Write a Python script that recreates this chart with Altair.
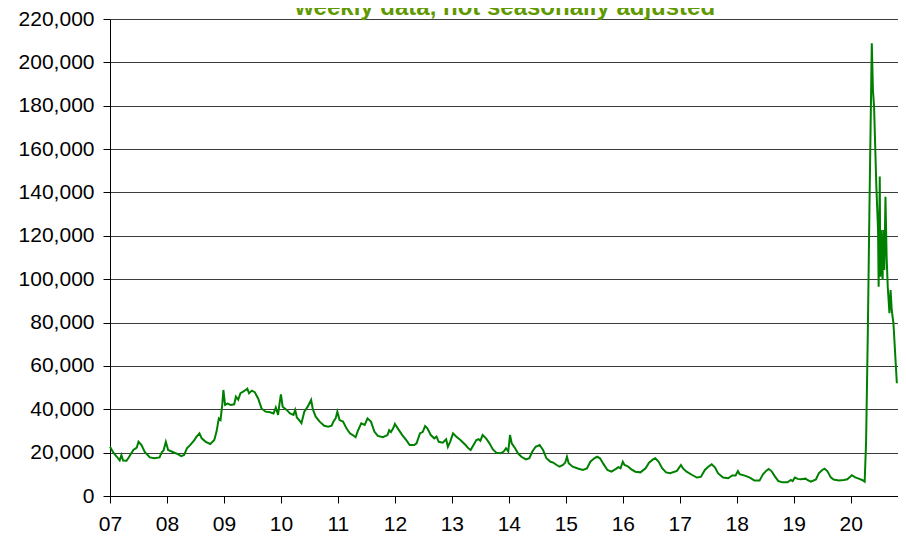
import altair as alt
import pandas as pd

TITLE = "weekly data, not seasonally adjusted"

# time in fractional years, weekly claims
t = [
    2007.00, 2007.06, 2007.12, 2007.17, 2007.20, 2007.23, 2007.29, 2007.32, 2007.41, 2007.47,
    2007.50, 2007.55, 2007.61, 2007.70, 2007.78, 2007.87, 2007.91, 2007.94, 2007.98, 2008.02,
    2008.10, 2008.19, 2008.25, 2008.30, 2008.35, 2008.41, 2008.48, 2008.51, 2008.57, 2008.61,
    2008.68, 2008.76, 2008.83, 2008.87, 2008.91, 2008.94, 2008.97, 2008.99, 2009.02, 2009.06,
    2009.12, 2009.18, 2009.21, 2009.25, 2009.29, 2009.33, 2009.38, 2009.41, 2009.44, 2009.49,
    2009.54, 2009.60, 2009.66, 2009.73, 2009.81, 2009.87, 2009.91, 2009.95, 2009.98, 2010.00,
    2010.03, 2010.10, 2010.16, 2010.22, 2010.25, 2010.28, 2010.34, 2010.36, 2010.41, 2010.47,
    2010.53, 2010.56, 2010.61, 2010.68, 2010.76, 2010.83, 2010.89, 2010.92, 2010.96, 2010.99,
    2011.03, 2011.09, 2011.15, 2011.21, 2011.26, 2011.31, 2011.35, 2011.41, 2011.47, 2011.52,
    2011.58, 2011.64, 2011.70, 2011.79, 2011.87, 2011.90, 2011.93, 2011.97, 2012.00, 2012.05,
    2012.13, 2012.20, 2012.26, 2012.34, 2012.38, 2012.44, 2012.49, 2012.53, 2012.57, 2012.63,
    2012.69, 2012.73, 2012.77, 2012.84, 2012.90, 2012.93, 2012.97, 2013.02, 2013.08, 2013.15,
    2013.24, 2013.29, 2013.33, 2013.38, 2013.43, 2013.47, 2013.50, 2013.54, 2013.60, 2013.66,
    2013.72, 2013.78, 2013.85, 2013.91, 2013.95, 2013.99, 2014.02, 2014.05, 2014.11, 2014.16,
    2014.22, 2014.30, 2014.36, 2014.41, 2014.47, 2014.54, 2014.60, 2014.66, 2014.73, 2014.78,
    2014.84, 2014.89, 2014.95, 2014.99, 2015.02, 2015.05, 2015.12, 2015.21, 2015.30, 2015.37,
    2015.43, 2015.50, 2015.55, 2015.60, 2015.66, 2015.73, 2015.80, 2015.88, 2015.92, 2015.96,
    2016.00, 2016.03, 2016.08, 2016.15, 2016.22, 2016.31, 2016.40, 2016.46, 2016.53, 2016.57,
    2016.63, 2016.69, 2016.76, 2016.83, 2016.95, 2017.02, 2017.06, 2017.12, 2017.21, 2017.30,
    2017.37, 2017.44, 2017.50, 2017.56, 2017.62, 2017.67, 2017.76, 2017.85, 2017.92, 2017.98,
    2018.02, 2018.05, 2018.14, 2018.23, 2018.31, 2018.40, 2018.46, 2018.52, 2018.56, 2018.61,
    2018.66, 2018.73, 2018.80, 2018.89, 2018.95, 2018.98, 2019.02, 2019.07, 2019.12, 2019.21,
    2019.24, 2019.30, 2019.39, 2019.44, 2019.50, 2019.54, 2019.59, 2019.65, 2019.70, 2019.79,
    2019.88, 2019.94, 2019.99, 2020.02, 2020.08, 2020.14, 2020.20, 2020.245, 2020.27, 2020.30,
    2020.33, 2020.37, 2020.39, 2020.41, 2020.45, 2020.48, 2020.49, 2020.51, 2020.52, 2020.53,
    2020.56, 2020.57, 2020.59, 2020.61, 2020.63, 2020.65, 2020.68, 2020.70, 2020.72, 2020.75,
    2020.81,
]
claims = [
    22700, 20000, 18100, 16400, 18900, 16400, 16300, 17400, 21200, 22300,
    25000, 23600, 20300, 17800, 17400, 17800, 20300, 21000, 25000, 21200,
    20300, 19300, 18400, 18900, 22000, 23600, 25800, 27000, 28900, 26600,
    25000, 24000, 25800, 29700, 35800, 35100, 42000, 48900, 42000, 42600,
    42000, 42300, 45800, 44400, 47400, 48000, 48900, 49500, 47400, 48600,
    47900, 45000, 40400, 38900, 38600, 38100, 40800, 37400, 43500, 46900,
    41200, 39700, 38100, 37400, 39700, 36200, 34300, 33600, 38900, 41200,
    44300, 40000, 36600, 34300, 32400, 32000, 32400, 34300, 35800, 38900,
    35000, 34300, 31200, 28900, 28100, 27100, 30000, 33500, 32800, 35800,
    34300, 29700, 27700, 27100, 28100, 30400, 29500, 31200, 33200, 31200,
    28100, 25800, 23500, 23500, 24300, 28900, 29600, 32300, 31200, 28100,
    26600, 27400, 25000, 24600, 26200, 22700, 25000, 28900, 27300, 25800,
    23500, 22000, 21200, 23500, 25800, 26200, 25500, 28100, 26600, 24300,
    21500, 20000, 19700, 20500, 22000, 20500, 28100, 24300, 22000, 19700,
    18100, 16900, 17400, 20400, 22700, 23500, 21200, 17400, 15800, 15400,
    14300, 13500, 14300, 15400, 18100, 15100, 13500, 12700, 12000, 12700,
    15800, 17400, 18100, 17400, 14800, 12000, 11200, 12500, 13300, 12800,
    15800, 14300, 13800, 12300, 11200, 10900, 12800, 15400, 16900, 17400,
    15800, 12800, 10900, 10500, 11600, 14300, 12600, 11200, 9800, 8500,
    8800, 12000, 13500, 14600, 13100, 10500, 8500, 8200, 9500, 9500,
    11500, 10100, 9400, 8500, 7100, 7100, 10000, 11700, 12500, 11500,
    9400, 6900, 6300, 6300, 7400, 6900, 8500, 7900, 7700, 8000,
    7400, 6600, 7600, 10500, 12000, 12600, 11500, 8600, 7600, 7200,
    7400, 7700, 8900, 9600, 8600, 8000, 7400, 6600, 25000, 75000,
    135000, 208800, 187200, 179600, 142700, 122700, 96500, 147300, 101100, 122700,
    99600, 122700, 104200, 138000, 110400, 96500, 84300, 95000, 85800, 79600,
    52000,
]

year_ticks = list(range(2007, 2021))
y_ticks = list(range(0, 220001, 20000))

df = pd.DataFrame({"t": t, "claims": claims})
FONT = "Liberation Sans"

line = alt.Chart(df).mark_line(color="#008000", strokeWidth=2).encode(
    x=alt.X(
        "t:Q",
        scale=alt.Scale(domain=[2007, 2020.83], nice=False, zero=False),
        axis=alt.Axis(
            values=year_ticks,
            labelExpr="substring(toString(datum.value), 2)",
            title=None,
            grid=False,
            domainColor="#000000",
            domainWidth=1,
            tickColor="#000000",
            tickSize=7,
            labelPadding=10,
            labelFontSize=21,
            labelFont=FONT,
            labelColor="#000000",
            labelFlush=False,
        ),
    ),
    y=alt.Y(
        "claims:Q",
        scale=alt.Scale(domain=[0, 220000], nice=False),
        axis=alt.Axis(
            values=y_ticks,
            format=",d",
            title=None,
            grid=True,
            gridColor="#3c3c3c",
            gridWidth=1,
            gridOpacity=1,
            domainColor="#000000",
            domainWidth=1,
            tickColor="#000000",
            tickSize=7,
            labelPadding=9,
            labelFontSize=21,
            labelFont=FONT,
            labelColor="#000000",
        ),
    ),
)

title_df = pd.DataFrame({"label": [TITLE]})
title = alt.Chart(title_df).mark_text(
    font=FONT, fontSize=24, fontWeight="bold", color="#5f9900",
    align="center", baseline="alphabetic",
).encode(
    text="label:N",
    x=alt.value(395),
    y=alt.value(-4),
)

chart = alt.layer(line, title).properties(
    width=788,
    height=477,
    autosize=alt.AutoSizeParams(type="none"),
    padding={"left": 102, "top": 11, "right": 0, "bottom": 40},
).configure_view(stroke=None).configure(background="#ffffff")

chart.save("out.html", embed_options={"renderer": "svg", "actions": False})
